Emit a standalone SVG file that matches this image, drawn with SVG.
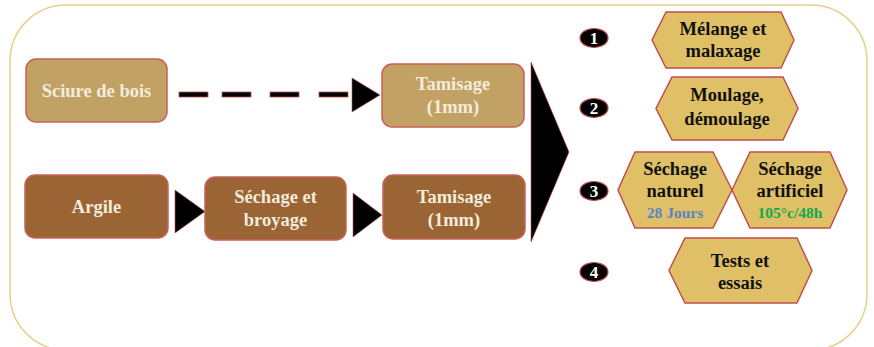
<svg xmlns="http://www.w3.org/2000/svg" width="874" height="347" viewBox="0 0 874 347">
<style>
.box{stroke:#c9605a;stroke-width:1.5}
.light{fill:#c1a264}
.dark{fill:#9a6434}
.hex{fill:#dfc066;stroke:#c0504d;stroke-width:1.5}
.wt{font-family:"Liberation Serif","Times New Roman",serif;font-weight:bold;font-size:18.5px;fill:#f3ecdc;text-anchor:middle}
.bt{font-family:"Liberation Serif","Times New Roman",serif;font-weight:bold;font-size:18.5px;fill:#111;text-anchor:middle}
.num{font-family:"Liberation Serif","Times New Roman",serif;font-weight:bold;font-size:17px;fill:#fff;text-anchor:middle}
.badge{fill:#000;stroke:#c0504d;stroke-width:1.2}
.arr{fill:#000;stroke:#c0504d;stroke-width:0.6}
</style>
<rect x="10" y="5" width="857" height="345" rx="56" fill="#fff" stroke="#e6cf8c" stroke-width="1.5"/>
<g id="connectors">
<g fill="#000" stroke="#c0504d" stroke-width="0.8">
<rect x="179" y="92" width="29" height="5"/>
<rect x="222" y="92" width="29" height="5"/>
<rect x="270" y="92" width="29" height="5"/>
<rect x="319" y="92" width="29" height="5"/>
</g>
<polygon class="arr" points="352,78 380,95 352,112"/>
<polygon class="arr" points="175,190 205,211.5 175,233"/>
<polygon class="arr" points="353,193 382,215 353,237"/>
<polygon class="arr" points="531,62 569,152 531,242"/>
</g>
<g id="sciure">
<rect class="box light" x="26" y="59" width="141" height="63" rx="10"/>
<text class="wt" x="96.5" y="97">Sciure de bois</text>
</g>
<g id="tamisage1">
<rect class="box light" x="382" y="64" width="142" height="63" rx="10"/>
<text class="wt" x="453" y="90">Tamisage</text>
<text class="wt" x="453" y="113">(1mm)</text>
</g>
<g id="argile">
<rect class="box dark" x="25" y="175" width="143" height="63" rx="10"/>
<text class="wt" x="96.5" y="213">Argile</text>
</g>
<g id="sechage-broyage">
<rect class="box dark" x="205" y="177" width="141" height="63" rx="10"/>
<text class="wt" x="275.5" y="203">Séchage et</text>
<text class="wt" x="275.5" y="226">broyage</text>
</g>
<g id="tamisage2">
<rect class="box dark" x="383" y="175" width="142" height="64" rx="10"/>
<text class="wt" x="454" y="203">Tamisage</text>
<text class="wt" x="454" y="226">(1mm)</text>
</g>
<g id="badge1"><ellipse class="badge" cx="594" cy="38" rx="14" ry="9.5"/><text class="num" x="594" y="44">1</text></g>
<g id="badge2"><ellipse class="badge" cx="594" cy="108" rx="14" ry="9.5"/><text class="num" x="594" y="114">2</text></g>
<g id="badge3"><ellipse class="badge" cx="594" cy="191" rx="14" ry="9.5"/><text class="num" x="594" y="197">3</text></g>
<g id="badge4"><ellipse class="badge" cx="594" cy="272" rx="14" ry="9.5"/><text class="num" x="594" y="278">4</text></g>
<g id="melange">
<polygon class="hex" points="666,12 781,12 794,40 781,68 666,68 652,40"/>
<text class="bt" x="723" y="35">Mélange et</text>
<text class="bt" x="723" y="57">malaxage</text>
</g>
<g id="moulage">
<polygon class="hex" points="672,77 783,77 798,108.5 783,140 672,140 656,108.5"/>
<text class="bt" x="727" y="101">Moulage,</text>
<text class="bt" x="727" y="125">démoulage</text>
</g>
<g id="sechage-naturel">
<polygon class="hex" points="635,152 713,152 732,190 713,228 635,228 618,190"/>
<text class="bt" x="675" y="175">Séchage</text>
<text class="bt" x="675" y="197">naturel</text>
<text class="bt" x="675" y="218" style="fill:#5b84c4;font-size:15.5px">28 Jours</text>
</g>
<g id="sechage-artificiel">
<polygon class="hex" points="750,152 830,152 847,190 830,228 750,228 732,190"/>
<text class="bt" x="790" y="175">Séchage</text>
<text class="bt" x="790" y="197">artificiel</text>
<text class="bt" x="790" y="218" style="fill:#12a84c;font-size:15.5px">105°c/48h</text>
</g>
<g id="tests">
<polygon class="hex" points="685,238 797,238 812,270.5 797,303 685,303 669,270.5"/>
<text class="bt" x="740" y="267">Tests et</text>
<text class="bt" x="740" y="289">essais</text>
</g>
</svg>
